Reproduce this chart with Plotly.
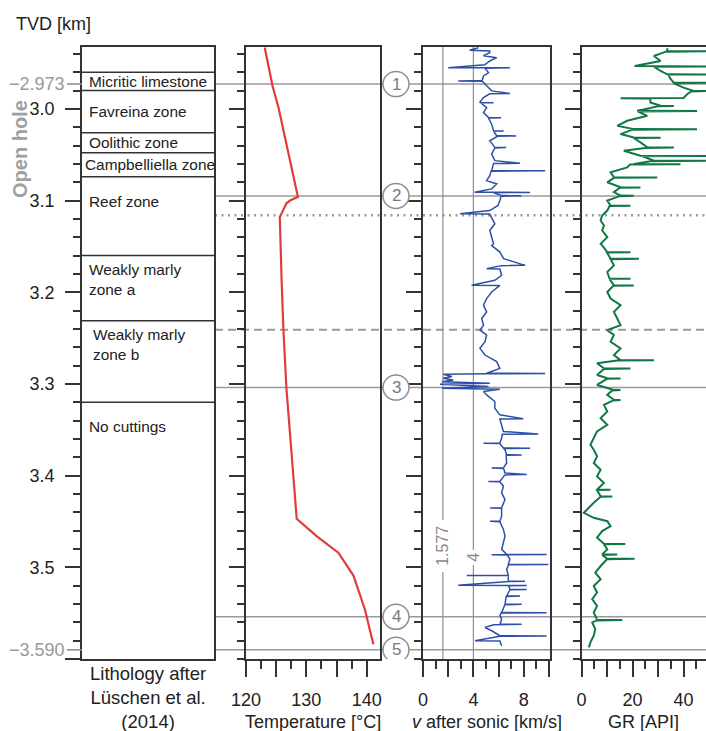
import plotly.graph_objects as go

# ---------------- data ----------------
depth_range = [3.6, 2.932]                 # TVD [km], increasing downward
depth_ticks = [3.0, 3.1, 3.2, 3.3, 3.4, 3.5, 3.6]
depth_tick_text = ["3.0", "3.1", "3.2", "3.3", "3.4", "3.5", ""]
open_hole_top = 2.973
open_hole_bottom = 3.590

zone_names = ["Micritic limestone", "Favreina zone", "Oolithic zone", "Campbelliella zone",
              "Reef zone", "Weakly marly<br>zone a", "Weakly marly<br>zone b", "No cuttings"]
zone_tops = [2.960, 2.980, 3.026, 3.048, 3.074, 3.160, 3.231, 3.320]
zone_bottoms = [2.980, 3.026, 3.048, 3.074, 3.160, 3.231, 3.320, 3.600]

temp_depth_km = [2.933, 2.975, 2.999, 3.071, 3.096, 3.100, 3.103, 3.114, 3.118, 3.187,
                 3.241, 3.305, 3.383, 3.447, 3.466, 3.484, 3.509, 3.546, 3.584]
temp_c = [123.1, 124.4, 125.4, 127.8, 128.6, 127.3, 126.7, 125.9, 125.6, 125.9,
          126.2, 126.7, 127.7, 128.4, 131.7, 135.3, 137.8, 139.7, 141.1]

sonic_depth_km = [
    2.9333, 2.9360, 2.9370, 2.9388, 2.9420, 2.9442, 2.9478, 2.9520, 2.9551, 2.9553,
    2.9556, 2.9605, 2.9641, 2.9690, 2.9696, 2.9700, 2.9750, 2.9804, 2.9833, 2.9836,
    2.9877, 2.9931, 2.9933, 2.9936, 2.9986, 3.0040, 3.0094, 3.0096, 3.0100, 3.0167,
    3.0239, 3.0241, 3.0245, 3.0293, 3.0295, 3.0300, 3.0348, 3.0420, 3.0422, 3.0426,
    3.0493, 3.0565, 3.0594, 3.0597, 3.0674, 3.0676, 3.0680, 3.0728, 3.0783, 3.0819,
    3.0873, 3.0909, 3.0911, 3.0915, 3.0946, 3.0948, 3.0952, 3.1000, 3.1054, 3.1109,
    3.1145, 3.1148, 3.1182, 3.1254, 3.1326, 3.1399, 3.1471,
    3.1489, 3.1562, 3.1634, 3.1707, 3.1710, 3.1743, 3.1746, 3.1815, 3.1870, 3.1924,
    3.1926, 3.1997, 3.2069, 3.2141, 3.2214, 3.2286, 3.2359, 3.2413, 3.2467, 3.2540,
    3.2612, 3.2685, 3.2757, 3.2830, 3.2884, 3.2886, 3.2890, 3.2895, 3.2920, 3.2938,
    3.2957, 3.2975, 3.2993, 3.3004, 3.3029, 3.3047, 3.3058, 3.3083, 3.3120, 3.3192,
    3.3264, 3.3337, 3.3380, 3.3383, 3.3446, 3.3518, 3.3547, 3.3550, 3.3590, 3.3645,
    3.3647, 3.3650, 3.3699, 3.3701, 3.3705,
    3.3717, 3.3772, 3.3774, 3.3778, 3.3862, 3.3916, 3.3918, 3.3922, 3.3971, 3.3989,
    3.3992, 3.4062, 3.4064, 3.4068, 3.4116, 3.4188, 3.4261, 3.4351, 3.4353, 3.4357,
    3.4442, 3.4497, 3.4499, 3.4503, 3.4587, 3.4659, 3.4732, 3.4804, 3.4859, 3.4861,
    3.4863, 3.4866, 3.4913, 3.4967, 3.4969, 3.4972, 3.5022, 3.5087, 3.5089, 3.5092,
    3.5149, 3.5151, 3.5155, 3.5196, 3.5198, 3.5202, 3.5239, 3.5241, 3.5245, 3.5312,
    3.5314, 3.5318, 3.5402, 3.5404, 3.5408, 3.5493, 3.5495, 3.5499, 3.5529, 3.5565,
    3.5620, 3.5622, 3.5626, 3.5656, 3.5692, 3.5746, 3.5748, 3.5752, 3.5801, 3.5803,
    3.5855,
]
sonic_kms = [
    4.4, 3.7, 5.3, 5.3, 4.8, 5.85, 5.3, 4.9, 2.0, 6.9,
    4.9, 5.2, 4.8, 4.7, 2.8, 4.7, 5.05, 5.45, 6.9, 5.3,
    4.8, 4.5, 5.6, 4.6, 5.05, 4.8, 5.2, 6.2, 5.2, 5.45,
    5.6, 6.4, 5.6, 5.85, 7.4, 5.9, 5.3, 5.7, 6.6, 5.7,
    5.45, 5.7, 7.7, 5.6, 5.45, 9.7, 5.4, 5.3, 5.05, 5.85,
    5.45, 4.1, 8.5, 5.6, 6.24, 7.8, 6.2, 6.1, 5.95, 5.3,
    2.94, 5.3, 5.45, 5.7, 5.3, 5.45, 5.6,
    5.45, 6.1, 6.4, 8.1, 6.2, 5.05, 6.1, 6.24, 5.7, 3.86,
    6.1, 5.45, 5.05, 4.8, 5.05, 4.66, 4.8, 4.52, 5.05, 4.92,
    4.52, 4.92, 5.85, 6.1, 5.05, 9.7, 5.0, 1.6, 2.3, 1.6,
    2.4, 1.5, 5.3, 1.35, 5.2, 1.5, 6.1, 4.8, 5.05, 5.7,
    5.7, 6.1, 7.96, 6.1, 6.24, 6.38, 9.15, 6.3, 6.24, 6.1,
    4.8, 6.1, 6.38, 8.5, 6.4,
    6.51, 6.64, 7.83, 6.6, 6.64, 6.38, 5.45, 6.4, 6.51, 8.23,
    6.5, 6.11, 5.19, 6.1, 6.38, 6.24, 6.51, 6.24, 5.32, 6.24,
    6.24, 6.11, 5.32, 6.1, 6.38, 6.51, 6.38, 6.24, 6.64, 9.81,
    5.45, 6.7, 6.9, 6.77, 9.95, 6.8, 6.64, 6.77, 3.47, 6.77,
    6.77, 8.1, 6.8, 2.8, 8.23, 6.8, 6.9, 8.23, 6.9, 6.64,
    7.7, 6.6, 6.51, 7.83, 6.5, 6.24, 9.81, 6.2, 6.11, 6.24,
    6.11, 7.83, 5.6, 4.92, 5.45, 6.11, 9.81, 6.1, 4.13, 6.1,
    6.24,
]

gr_depth_km = [
    2.9340, 2.9370, 2.9372, 2.9376, 2.9424, 2.9478, 2.9533, 2.9535, 2.9537, 2.9540,
    2.9587, 2.9623, 2.9625, 2.9629, 2.9677, 2.9714, 2.9716, 2.9720, 2.9768, 2.9804,
    2.9806, 2.9810, 2.9841, 2.9882, 2.9884, 2.9890, 2.9931, 2.9967, 2.9969, 2.9973,
    3.0022, 3.0024, 3.0028, 3.0076, 3.0130, 3.0185, 3.0221, 3.0223, 3.0227, 3.0275,
    3.0312, 3.0314, 3.0318, 3.0366, 3.0420, 3.0422, 3.0426, 3.0457, 3.0511, 3.0513,
    3.0517, 3.0565, 3.0567, 3.0571, 3.0601, 3.0603, 3.0607, 3.0638, 3.0692, 3.0746,
    3.0748, 3.0752, 3.0801, 3.0855, 3.0857, 3.0861, 3.0909, 3.0946, 3.0948, 3.0952,
    3.1000, 3.1054, 3.1056, 3.1060, 3.1109, 3.1163, 3.1217, 3.1272, 3.1326, 3.1399,
    3.1471,
    3.1489, 3.1562, 3.1564, 3.1568, 3.1634, 3.1636, 3.1640, 3.1707, 3.1779, 3.1851,
    3.1853, 3.1857, 3.1924, 3.1926, 3.1930, 3.1997, 3.2069, 3.2141, 3.2214, 3.2286,
    3.2359, 3.2413, 3.2467, 3.2540, 3.2612, 3.2685, 3.2739, 3.2741, 3.2745, 3.2775,
    3.2830, 3.2832, 3.2836, 3.2902, 3.2938, 3.2940, 3.2944, 3.3011, 3.3065, 3.3067,
    3.3071, 3.3120, 3.3174, 3.3176, 3.3180, 3.3228, 3.3301, 3.3373, 3.3446, 3.3518,
    3.3590, 3.3663,
    3.3717, 3.3790, 3.3862, 3.3935, 3.4008, 3.4080, 3.4152, 3.4154, 3.4158, 3.4225,
    3.4227, 3.4231, 3.4297, 3.4370, 3.4406, 3.4460, 3.4497, 3.4551, 3.4605, 3.4677,
    3.4743, 3.4745, 3.4749, 3.4804, 3.4859, 3.4861, 3.4865, 3.4906, 3.4908, 3.4912,
    3.4986, 3.5058, 3.5130, 3.5203, 3.5275, 3.5348, 3.5420, 3.5493, 3.5573, 3.5575,
    3.5579, 3.5601, 3.5674, 3.5746, 3.5819, 3.5873,
]
gr_api = [
    33.6, 33.6, 50.0, 33.0, 28.4, 31.0, 20.8, 28.4, 50.0, 28.4,
    31.0, 33.6, 50.0, 34.0, 35.0, 36.2, 50.0, 36.0, 40.0, 44.0,
    50.0, 43.0, 41.4, 40.0, 15.3, 27.0, 27.0, 31.0, 36.2, 30.0,
    21.8, 45.3, 22.0, 25.8, 17.9, 14.0, 20.5, 45.3, 20.0, 15.3,
    20.5, 31.0, 20.5, 23.1, 25.8, 36.2, 25.0, 16.6, 23.1, 49.0,
    24.0, 28.4, 49.0, 27.0, 20.5, 38.8, 19.0, 17.9, 11.4, 12.7,
    29.7, 12.7, 10.1, 15.3, 23.1, 15.0, 12.7, 15.3, 20.5, 15.0,
    10.1, 11.4, 19.2, 11.0, 10.1, 8.1, 7.5, 8.8, 8.1, 10.1,
    7.5,
    8.1, 10.1, 19.2, 10.0, 11.4, 22.5, 11.4, 12.7, 10.1, 11.0,
    19.2, 11.0, 12.7, 20.5, 12.5, 10.1, 11.4, 15.3, 12.7, 14.0,
    15.3, 10.1, 12.7, 11.4, 15.3, 12.7, 15.3, 28.4, 14.0, 6.1,
    8.8, 19.2, 8.8, 6.1, 10.1, 15.3, 10.0, 6.1, 12.7, 15.3,
    12.0, 10.1, 12.7, 15.3, 12.5, 8.8, 10.1, 7.5, 10.1, 6.1,
    4.8, 3.5,
    4.8, 6.1, 4.8, 7.5, 6.1, 8.8, 6.1, 11.4, 6.1, 7.5,
    12.1, 7.5, 4.8, 2.2, 0.9, 4.8, 10.1, 11.4, 8.1, 6.1,
    8.8, 17.2, 8.8, 10.1, 8.1, 14.0, 8.1, 10.1, 20.8, 10.0,
    7.5, 5.4, 7.5, 4.8, 6.1, 4.2, 6.1, 4.8, 6.1, 16.0,
    6.0, 4.2, 5.4, 4.8, 3.5, 2.9,
]

marker_ids = ["1", "2", "3", "4", "5"]
marker_depths = [2.973, 3.095, 3.304, 3.554, 3.590]
dotted_depth = 3.116
dashed_depth = 3.241
sonic_ref_values = [1.577, 4]
sonic_ref_labels = ["1.577", "4"]

assert len(sonic_depth_km) == len(sonic_kms), (len(sonic_depth_km), len(sonic_kms))
assert len(gr_depth_km) == len(gr_api), (len(gr_depth_km), len(gr_api))
assert len(temp_depth_km) == len(temp_c)

# ---------------- layout helpers ----------------
W, H = 706, 731
FONT = "Liberation Sans, Arial, Helvetica, sans-serif"
DARK = "#333333"
GREY = "#999999"
def fx(p):
    return p / W
def fy(p):
    return 1 - p / H

YDOM = [fy(659), fy(46.5)]
DOM = {"lith": [fx(82), fx(214)], "temp": [fx(246), fx(380)],
       "vel": [fx(423), fx(550)], "gr": [fx(581.5), 1.0]}

fig = go.Figure()
fig.add_trace(go.Scatter(x=temp_c, y=temp_depth_km, xaxis="x2", yaxis="y2", mode="lines",
                         line=dict(color="#e23b3b", width=2.2), showlegend=False))
fig.add_trace(go.Scatter(x=sonic_kms, y=sonic_depth_km, xaxis="x3", yaxis="y3", mode="lines",
                         line=dict(color="#2d50a6", width=1.5), showlegend=False))
fig.add_trace(go.Scatter(x=gr_api, y=gr_depth_km, xaxis="x4", yaxis="y4", mode="lines",
                         line=dict(color="#117845", width=2.0), showlegend=False))

def yaxis(anchor, labels):
    return dict(domain=YDOM, anchor=anchor, range=depth_range, tickmode="array",
                tickvals=depth_ticks, ticktext=depth_tick_text, showticklabels=labels,
                ticks="outside", ticklen=15, tickwidth=1.5, tickcolor=DARK,
                minor=dict(tickmode="linear", tick0=3.0, dtick=0.02, ticks="outside",
                           ticklen=7, tickwidth=1.5, tickcolor=DARK),
                showline=True, linecolor=DARK, linewidth=1.5, mirror=(anchor != "x4"),
                showgrid=False, zeroline=False, ticklabelstandoff=7, automargin=False,
                tickfont=dict(family=FONT, size=18, color="#222"))

def xaxis(dom, rng, vals, text, minor_dtick, anchor):
    return dict(domain=dom, anchor=anchor, range=rng, tickmode="array", tickvals=vals,
                ticktext=text, ticks="outside", ticklen=16, tickwidth=1.5, tickcolor=DARK,
                minor=dict(tickmode="linear", tick0=rng[0], dtick=minor_dtick, ticks="outside",
                           ticklen=8, tickwidth=1.5, tickcolor=DARK),
                showline=True, linecolor=DARK, linewidth=1.5, mirror=True,
                showgrid=False, zeroline=False, ticklabelstandoff=8, automargin=False,
                tickfont=dict(family=FONT, size=18, color="#222"))

fig.update_layout(
    width=W, height=H, margin=dict(l=0, r=0, t=0, b=0, pad=0), autosize=False,
    paper_bgcolor="white", plot_bgcolor="white", showlegend=False,
    font=dict(family=FONT, size=18, color="#222"),
    xaxis=dict(domain=DOM["lith"], anchor="y", range=[0, 1], showticklabels=False, ticks="",
               showline=True, linecolor=DARK, linewidth=1.5, mirror=True, automargin=False,
               showgrid=False, zeroline=False),
    yaxis=yaxis("x", True),
    xaxis2=xaxis(DOM["temp"], [120, 142.2], [120, 125, 130, 135, 140],
                 ["120", "", "130", "", "140"], 2.5, "y2"),
    yaxis2=yaxis("x2", False),
    xaxis3=xaxis(DOM["vel"], [0, 10.08], [0, 2, 4, 6, 8, 10],
                 ["0", "", "4", "", "8", ""], 1, "y3"),
    yaxis3=yaxis("x3", False),
    xaxis4=xaxis(DOM["gr"], [0, 48.8], [0, 10, 20, 30, 40],
                 ["0", "", "20", "", "40"], 5, "y4"),
    yaxis4=yaxis("x4", False),
)

shapes = []
ann = []

# lithology boundaries and labels
for name, top, bot in zip(zone_names, zone_tops, zone_bottoms):
    shapes.append(dict(type="line", xref="x", yref="y", x0=0, x1=1, y0=top, y1=top,
                       line=dict(color=DARK, width=1.5), layer="above"))
    label_y = min((top + bot) / 2, top + 0.0265)
    xpos = 0.008 if name.startswith("Campbelliella") else (0.065 if name.endswith("zone b") else 0.036)
    ann.append(dict(text=name, xref="x", yref="y", x=xpos, y=label_y, xanchor="left",
                    yanchor="middle", align="left", showarrow=False,
                    font=dict(family=FONT, size=15.4, color="#222")))

# horizontal marker lines
for d in marker_depths:
    shapes.append(dict(type="line", xref="paper", yref="y", x0=fx(214), x1=1, y0=d, y1=d,
                       line=dict(color="#9a9a9a", width=1.5), layer="below"))
shapes.append(dict(type="line", xref="paper", yref="y", x0=fx(215), x1=1, y0=dotted_depth,
                   y1=dotted_depth, line=dict(color="#9a9a9a", width=2.5, dash="2px,4.5px"),
                   layer="below"))
shapes.append(dict(type="line", xref="paper", yref="y", x0=fx(215), x1=1, y0=dashed_depth,
                   y1=dashed_depth, line=dict(color="#9a9a9a", width=2, dash="8px,5px"),
                   layer="below"))

# open-hole depth marks on the depth axis
for d in (open_hole_top, open_hole_bottom):
    shapes.append(dict(type="line", xref="paper", yref="y", x0=fx(67), x1=fx(82), y0=d, y1=d,
                       line=dict(color="#8a8a8a", width=1.5)))
    ann.append(dict(text="\u2212%.3f" % d, xref="paper", yref="y", x=fx(67), y=d,
                    xanchor="right", yanchor="middle", showarrow=False,
                    font=dict(family=FONT, size=18, color=GREY)))

# numbered circles
for lab, d in zip(marker_ids, marker_depths):
    shapes.append(dict(type="circle", xref="paper", yref="y", xsizemode="pixel",
                       ysizemode="pixel", xanchor=fx(396), yanchor=d, x0=-13, x1=13,
                       y0=-12.5, y1=12.5, fillcolor="white",
                       line=dict(color="#8f8f8f", width=1.5), layer="above"))
    ann.append(dict(text=lab, xref="paper", yref="y", x=fx(396), y=d, xanchor="center",
                    yanchor="middle", showarrow=False,
                    font=dict(family=FONT, size=17, color="#7a7a7a")))

# sonic reference lines with labels
gaps = [(3.4483, 3.5051), (3.4811, 3.4974)]
for v, lab, (g0, g1) in zip(sonic_ref_values, sonic_ref_labels, gaps):
    for a, b in ((depth_range[1], g0), (g1, depth_range[0])):
        shapes.append(dict(type="line", xref="x3", yref="y3", x0=v, x1=v, y0=a, y1=b,
                           line=dict(color="#8f8f8f", width=1.2), layer="below"))
    ann.append(dict(text=lab, xref="x3", yref="y3", x=v, y=(g0 + g1) / 2, textangle=-90,
                    xanchor="center", yanchor="middle", showarrow=False,
                    font=dict(family=FONT, size=16, color="#8a8a8a")))

# titles
ann.append(dict(text="TVD [km]", xref="paper", yref="paper", x=fx(14), y=fy(24),
                xanchor="left", yanchor="middle", showarrow=False,
                font=dict(family=FONT, size=18, color="#222")))
ann.append(dict(text="<b>Open hole</b>", xref="paper", yref="paper", x=fx(20), y=fy(149),
                xanchor="center", yanchor="middle", textangle=-90, showarrow=False,
                font=dict(family=FONT, size=20, color="#a0a0a0")))
ann.append(dict(text="Lithology after<br>L\u00fcschen et al.<br>(2014)", xref="paper",
                yref="paper", x=fx(148), y=fy(697), xanchor="center", yanchor="middle",
                align="center", showarrow=False, font=dict(family=FONT, size=18.5, color="#222")))
for key, title in (("temp", "Temperature [\u00b0C]"), ("vel", "<i>v</i> after sonic [km/s]"),
                   ("gr", "GR [API]")):
    d0, d1 = DOM[key]
    cx = (d0 + d1) / 2 if key != "gr" else fx(643.5)
    ann.append(dict(text=title, xref="paper", yref="paper", x=cx, y=fy(722),
                    xanchor="center", yanchor="middle", showarrow=False,
                    font=dict(family=FONT, size=18, color="#222")))

fig.update_layout(shapes=shapes, annotations=ann)
fig.write_html("out.html", config={"displayModeBar": False},
               post_script="document.body.style.margin='0';document.body.style.overflow='hidden';")
